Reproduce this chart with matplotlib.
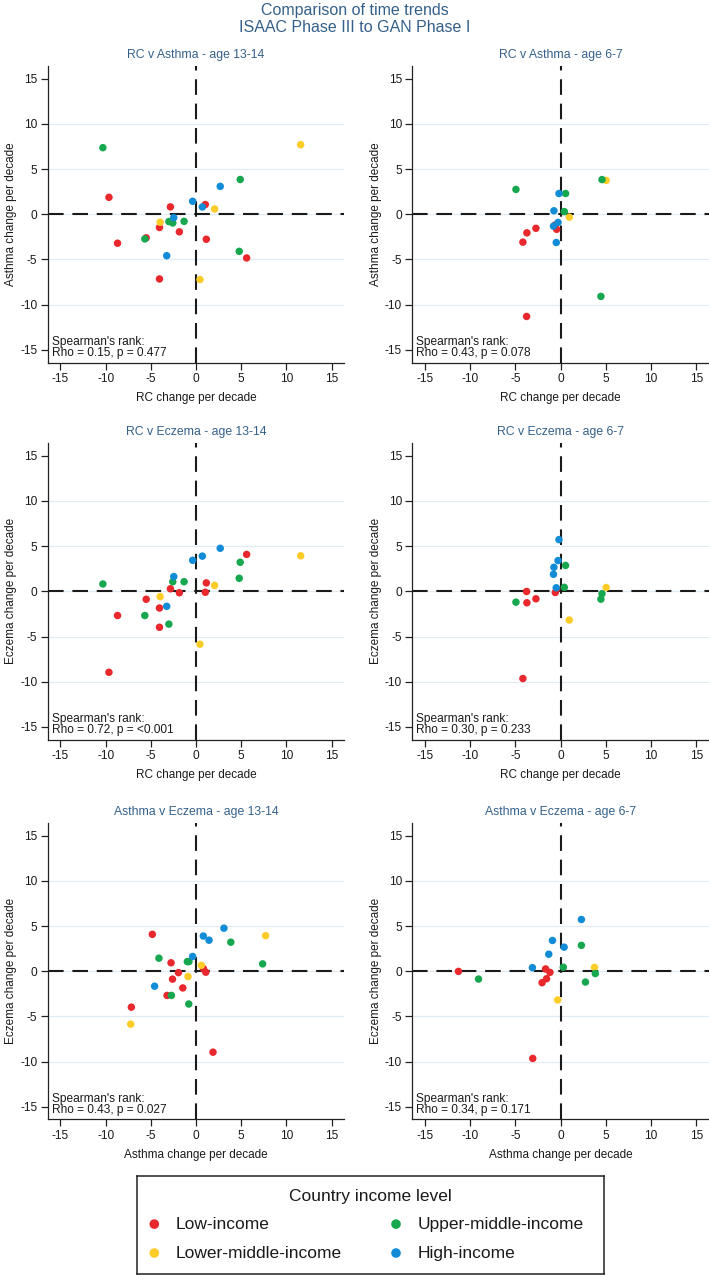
import matplotlib
matplotlib.use("Agg")
import matplotlib.pyplot as plt
import numpy as np

plt.rcParams['font.family'] = ['Liberation Sans', 'DejaVu Sans']
plt.rcParams['axes.unicode_minus'] = False

# ---------------- data ----------------
income_levels = ["Low-income", "Lower-middle-income", "Upper-middle-income", "High-income"]
income_colors = ["#e8282c", "#fecc29", "#17a74f", "#128cd6"]

# age 13-14 (one entry per centre/country)
income13 = ([0] * 10) + ([1] * 4) + ([2] * 7) + ([3] * 5)
rc13 = [-9.63, -2.83, 1.03, -4.04, -1.84, -5.51, -8.68, 1.14, 5.60, -4.04,
        11.58, 2.06, -3.97, 0.44,
        -10.30, 4.89, -3.00, -2.57, -1.32, -5.66, 4.78,
        2.68, -0.37, 0.70, -2.46, -3.24]
asthma13 = [1.88, 0.82, 1.08, -1.46, -1.94, -2.60, -3.20, -2.76, -4.83, -7.15,
            7.70, 0.59, -0.88, -7.22,
            7.37, 3.85, -0.80, -0.96, -0.78, -2.72, -4.10,
            3.09, 1.44, 0.81, -0.37, -4.58]
eczema13 = [-8.96, 0.28, -0.11, -1.85, -0.16, -0.88, -2.68, 0.93, 4.08, -3.98,
            3.93, 0.65, -0.59, -5.86,
            0.81, 3.21, -3.63, 1.06, 1.06, -2.68, 1.44,
            4.76, 3.43, 3.89, 1.63, -1.66]

# age 6-7
income67 = ([0] * 6) + ([1] * 2) + ([2] * 5) + ([3] * 5)
rc67 = [-0.44, -0.59, -2.73, -3.73, -4.17, -3.76,
        5.04, 0.96,
        4.58, -4.94, 0.55, 0.41, 4.46,
        -0.18, -0.74, -0.28, -0.79, -0.48]
asthma67 = [-1.66, -1.18, -1.55, -2.05, -3.08, -11.30,
            3.75, -0.32,
            3.84, 2.75, 2.30, 0.30, -9.08,
            2.30, 0.39, -0.90, -1.31, -3.12]
eczema67 = [0.25, -0.13, -0.83, -1.27, -9.65, -0.02,
            0.42, -3.18,
            -0.26, -1.20, 2.86, 0.44, -0.87,
            5.72, 2.66, 3.40, 1.88, 0.39]

tick_values = [-15, -10, -5, 0, 5, 10, 15]

panel_titles = ["RC v Asthma - age 13-14", "RC v Asthma - age 6-7",
                "RC v Eczema - age 13-14", "RC v Eczema - age 6-7",
                "Asthma v Eczema - age 13-14", "Asthma v Eczema - age 6-7"]
rho_texts = ["Rho = 0.15, p = 0.477", "Rho = 0.43, p = 0.078",
             "Rho = 0.72, p = <0.001", "Rho = 0.30, p = 0.233",
             "Rho = 0.43, p = 0.027", "Rho = 0.34, p = 0.171"]

panels = [
    (0, 0, rc13, asthma13, income13, "RC change per decade", "Asthma change per decade"),
    (0, 1, rc67, asthma67, income67, "RC change per decade", "Asthma change per decade"),
    (1, 0, rc13, eczema13, income13, "RC change per decade", "Eczema change per decade"),
    (1, 1, rc67, eczema67, income67, "RC change per decade", "Eczema change per decade"),
    (2, 0, asthma13, eczema13, income13, "Asthma change per decade", "Eczema change per decade"),
    (2, 1, asthma67, eczema67, income67, "Asthma change per decade", "Eczema change per decade"),
]

# ---------------- layout ----------------
W, H = 709, 1275
fig = plt.figure(figsize=(W / 100, H / 100), dpi=100)
fig.patch.set_facecolor("white")

TITLE_COLOR = "#34608a"
TXT = "#1a1a1a"
LIM = 16.4
PPU = 9.04
half = LIM * PPU
col_zero_x = [196.0, 560.6]
row_zero_y = [214.3, 591.3, 971.2]


def px_axes(left, top, width, height):
    return fig.add_axes([left / W, 1 - (top + height) / H, width / W, height / H])


for i, (r, c, xs, ys, inc, xl, yl) in enumerate(panels):
    cx, cy = col_zero_x[c], row_zero_y[r]
    ax = px_axes(cx - half, cy - half, 2 * half, 2 * half)
    ax.set_xlim(-LIM, LIM)
    ax.set_ylim(-LIM, LIM)
    ax.set_xticks(tick_values)
    ax.set_yticks(tick_values)
    ax.set_xticklabels([str(t) for t in tick_values])
    ax.set_yticklabels([str(t) for t in tick_values])
    for s in ["top", "right"]:
        ax.spines[s].set_visible(False)
    for s in ["left", "bottom"]:
        ax.spines[s].set_linewidth(0.9)
        ax.spines[s].set_color("#222222")
    ax.tick_params(axis="both", direction="out", length=5, width=0.9, color="#222222",
                   labelsize=8.6, labelcolor=TXT, pad=2.5)
    ax.yaxis.grid(True, color="#e3ebf2", linewidth=0.9)
    ax.set_axisbelow(True)
    for gl, t in zip(ax.get_ygridlines(), tick_values):
        if abs(t) == 15:
            gl.set_visible(False)
    ax.axhline(0, color="#1a1a1a", lw=1.5, ls=(0, (7.5, 4.2)), zorder=2)
    ax.axvline(0, color="#1a1a1a", lw=1.5, ls=(0, (7.5, 4.2)), zorder=2)

    xs_a, ys_a, inc_a = np.array(xs), np.array(ys), np.array(inc)
    for k in range(4):
        m = inc_a == k
        ax.scatter(xs_a[m], ys_a[m], s=29, color=income_colors[k], edgecolors="none",
                   zorder=3 + k, clip_on=False)

    ax.set_xlabel(xl, fontsize=8.5, color=TXT, labelpad=5)
    ax.set_ylabel(yl, fontsize=8.5, color=TXT, labelpad=2)
    ax.text(0.5, 1 + 11 / (2 * half), panel_titles[i], transform=ax.transAxes,
            ha="center", va="center", fontsize=8.8, color=TITLE_COLOR)
    ax.text(0.0135, 0.060, "Spearman's rank:", transform=ax.transAxes,
            ha="left", va="baseline", fontsize=8.6, color=TXT)
    ax.text(0.0135, 0.021, rho_texts[i], transform=ax.transAxes,
            ha="left", va="baseline", fontsize=8.6, color=TXT)

# main title
fig.text(0.5, 1 - 10.5 / H, "Comparison of time trends", ha="center", va="center",
         fontsize=11.5, color=TITLE_COLOR)
fig.text(0.5, 1 - 27 / H, "ISAAC Phase III to GAN Phase I", ha="center", va="center",
         fontsize=11.5, color=TITLE_COLOR)

# legend box
lg_left, lg_top, lg_w, lg_h = 137.3, 1175.7, 467.0, 98.0
lax = px_axes(lg_left, lg_top, lg_w, lg_h)
lax.set_xlim(0, 1)
lax.set_ylim(0, 1)
lax.set_xticks([])
lax.set_yticks([])
for s in lax.spines.values():
    s.set_linewidth(1.1)
    s.set_color("#222222")
lax.text(0.5, 0.786, "Country income level", ha="center", va="center",
         fontsize=12.5, color=TXT)
leg_pos = [(0.0364, 0.506), (0.0364, 0.211), (0.554, 0.506), (0.554, 0.211)]
for k, (mx, my) in enumerate(leg_pos):
    lax.scatter([mx], [my], s=48, color=income_colors[k], edgecolors="none")
    lax.text(mx + 0.0465, my, income_levels[k], ha="left", va="center",
             fontsize=12.5, color=TXT)

fig.savefig("out.png", dpi=100, facecolor="white")
